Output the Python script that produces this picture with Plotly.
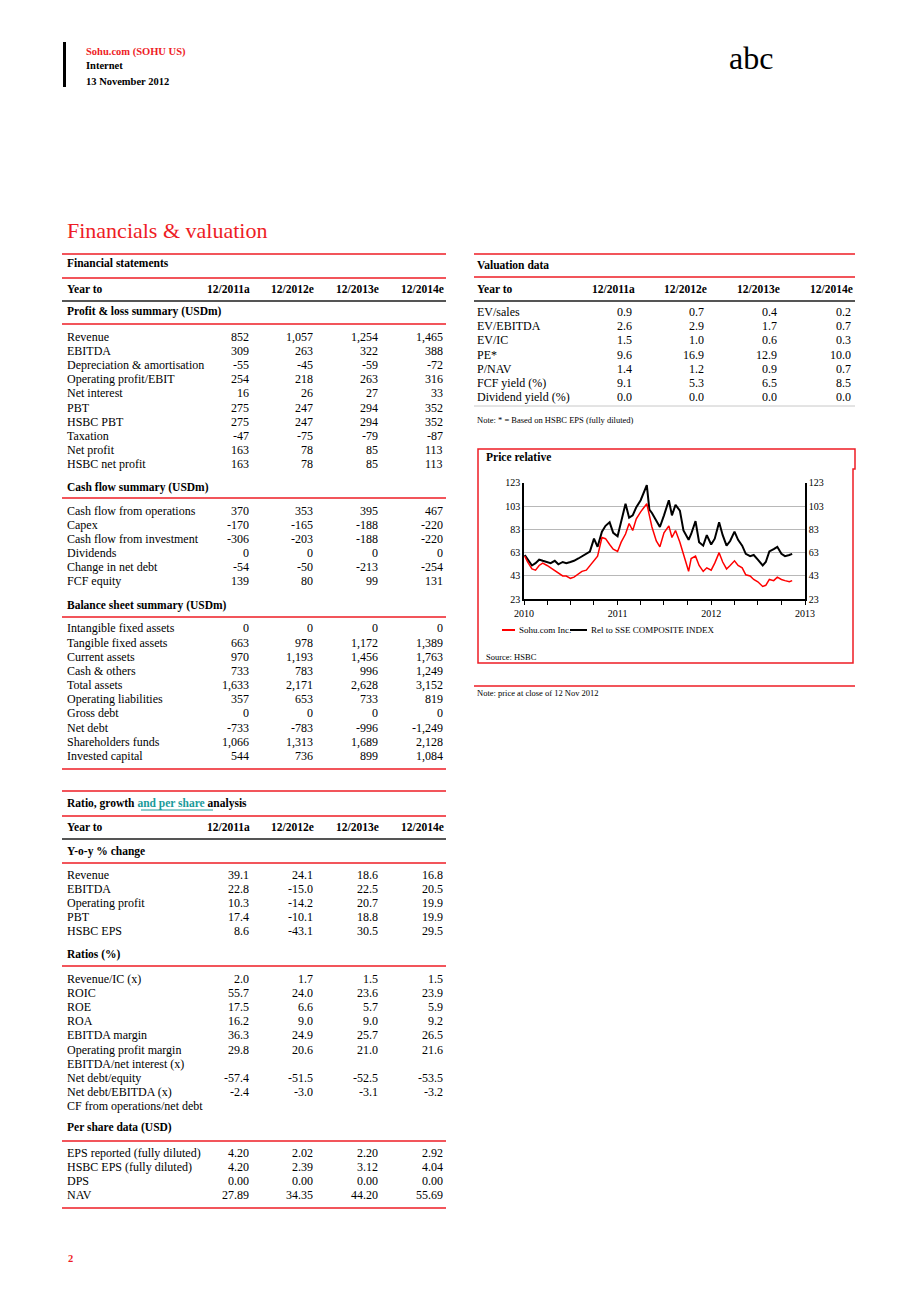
import plotly.graph_objects as go

# ---------------------------- PAGE CONFIG ----------------------------
W, H = 920, 1302
OFF = 8  # page offset of the plot div inside the browser window
FONT = "Liberation Serif, Times New Roman, serif"
RED = "#ee1c25"
TEAL = "#1a9a9a"

years = ["12/2011a", "12/2012e", "12/2013e", "12/2014e"]

# ---------------------------- TABLE DATA ----------------------------
pl_labels = ["Revenue", "EBITDA", "Depreciation & amortisation", "Operating profit/EBIT",
             "Net interest", "PBT", "HSBC PBT", "Taxation", "Net profit", "HSBC net profit"]
pl_values = [[852, 1057, 1254, 1465], [309, 263, 322, 388], [-55, -45, -59, -72],
             [254, 218, 263, 316], [16, 26, 27, 33], [275, 247, 294, 352],
             [275, 247, 294, 352], [-47, -75, -79, -87], [163, 78, 85, 113],
             [163, 78, 85, 113]]

cf_labels = ["Cash flow from operations", "Capex", "Cash flow from investment",
             "Dividends", "Change in net debt", "FCF equity"]
cf_values = [[370, 353, 395, 467], [-170, -165, -188, -220], [-306, -203, -188, -220],
             [0, 0, 0, 0], [-54, -50, -213, -254], [139, 80, 99, 131]]

bs_labels = ["Intangible fixed assets", "Tangible fixed assets", "Current assets",
             "Cash & others", "Total assets", "Operating liabilities", "Gross debt",
             "Net debt", "Shareholders funds", "Invested capital"]
bs_values = [[0, 0, 0, 0], [663, 978, 1172, 1389], [970, 1193, 1456, 1763],
             [733, 783, 996, 1249], [1633, 2171, 2628, 3152], [357, 653, 733, 819],
             [0, 0, 0, 0], [-733, -783, -996, -1249], [1066, 1313, 1689, 2128],
             [544, 736, 899, 1084]]

yoy_labels = ["Revenue", "EBITDA", "Operating profit", "PBT", "HSBC EPS"]
yoy_values = [[39.1, 24.1, 18.6, 16.8], [22.8, -15.0, 22.5, 20.5], [10.3, -14.2, 20.7, 19.9],
              [17.4, -10.1, 18.8, 19.9], [8.6, -43.1, 30.5, 29.5]]

ratio_labels = ["Revenue/IC (x)", "ROIC", "ROE", "ROA", "EBITDA margin",
                "Operating profit margin", "EBITDA/net interest (x)", "Net debt/equity",
                "Net debt/EBITDA (x)", "CF from operations/net debt"]
ratio_values = [[2.0, 1.7, 1.5, 1.5], [55.7, 24.0, 23.6, 23.9], [17.5, 6.6, 5.7, 5.9],
                [16.2, 9.0, 9.0, 9.2], [36.3, 24.9, 25.7, 26.5], [29.8, 20.6, 21.0, 21.6],
                None, [-57.4, -51.5, -52.5, -53.5], [-2.4, -3.0, -3.1, -3.2], None]

ps_labels = ["EPS reported (fully diluted)", "HSBC EPS (fully diluted)", "DPS", "NAV"]
ps_values = [[4.20, 2.02, 2.20, 2.92], [4.20, 2.39, 3.12, 4.04], [0.00, 0.00, 0.00, 0.00],
             [27.89, 34.35, 44.20, 55.69]]

val_labels = ["EV/sales", "EV/EBITDA", "EV/IC", "PE*", "P/NAV", "FCF yield (%)",
              "Dividend yield (%)"]
val_values = [[0.9, 0.7, 0.4, 0.2], [2.6, 2.9, 1.7, 0.7], [1.5, 1.0, 0.6, 0.3],
              [9.6, 16.9, 12.9, 10.0], [1.4, 1.2, 0.9, 0.7], [9.1, 5.3, 6.5, 8.5],
              [0.0, 0.0, 0.0, 0.0]]

# ---------------------------- PRICE DATA ----------------------------
price_dates = ["2010-01-04", "2010-01-15", "2010-02-01", "2010-02-15", "2010-03-01", "2010-03-15",
               "2010-04-01", "2010-04-15", "2010-05-01", "2010-05-15", "2010-06-01", "2010-06-15",
               "2010-07-01", "2010-07-15", "2010-08-01", "2010-08-15", "2010-09-01", "2010-09-15",
               "2010-10-01", "2010-10-15", "2010-11-01", "2010-11-15", "2010-12-01", "2010-12-15",
               "2011-01-01", "2011-01-15", "2011-02-01", "2011-02-15", "2011-03-01", "2011-03-15",
               "2011-04-01", "2011-04-25", "2011-05-05", "2011-05-15", "2011-06-01", "2011-06-15",
               "2011-07-01", "2011-07-20", "2011-08-01", "2011-08-15", "2011-09-01", "2011-09-15",
               "2011-10-05", "2011-10-15", "2011-11-01", "2011-11-15", "2011-12-01", "2011-12-15",
               "2012-01-01", "2012-01-15", "2012-02-01", "2012-02-15", "2012-03-01", "2012-03-15",
               "2012-04-01", "2012-04-15", "2012-05-01", "2012-05-15", "2012-06-01", "2012-06-15",
               "2012-07-01", "2012-07-20", "2012-08-01", "2012-08-15", "2012-09-01", "2012-09-15",
               "2012-10-01", "2012-10-15", "2012-11-01", "2012-11-12"]
rel_sse = [61, 57, 52, 54, 57, 56, 55, 54, 56, 53, 55, 54,
           55, 56, 58, 60, 62, 64, 75, 68, 81, 86, 89, 80,
           77, 90, 105, 93, 95, 102, 108, 121, 100, 97, 90, 85,
           95, 108, 95, 104, 99, 82, 74, 79, 90, 72, 69, 78,
           70, 75, 89, 78, 69, 73, 81, 74, 69, 62, 60, 61,
           57, 52, 55, 64, 66, 68, 62, 60, 61, 62]
sohu = [60, 55, 49, 48, 52, 54, 52, 50, 47, 45, 43, 43,
        41, 42, 45, 47, 48, 52, 57, 60, 76, 75, 70, 66,
        64, 72, 79, 88, 82, 92, 98, 105, 95, 85, 73, 68,
        80, 86, 76, 82, 72, 62, 47, 58, 60, 52, 47, 50,
        48, 54, 63, 55, 49, 52, 56, 52, 50, 44, 43, 40,
        38, 34, 35, 40, 39, 42, 40, 39, 38, 39]


def px(x):
    return (x - OFF) / W


def py(y):
    return 1 - (y - OFF) / H


def fmt(v, d):
    if v is None:
        return ""
    return f"{v:,.{d}f}"


annotations = []
shapes = []


def txt(x, y, s, anchor="left", size=12, color="black", bold=False):
    if bold:
        s = f"<b>{s}</b>"
    annotations.append(dict(x=px(x), y=py(y), xref="paper", yref="paper", text=s,
                            showarrow=False, xanchor=anchor, yanchor="middle",
                            font=dict(family=FONT, size=size, color=color)))


def hline(x0, x1, y, color=RED, width=1.5):
    shapes.append(dict(type="line", xref="paper", yref="paper", x0=px(x0), x1=px(x1),
                       y0=py(y), y1=py(y), line=dict(color=color, width=width)))


def rows(labels, values, y0, step, lx, cols, dec):
    for i, lab in enumerate(labels):
        y = y0 + i * step
        txt(lx, y, lab)
        if values[i] is None:
            continue
        for c, v in zip(cols, values[i]):
            txt(c, y, fmt(v, dec), anchor="right")


L_COLS = [251, 315, 380, 445]
L_HEAD = [252, 316, 381, 446]
R_COLS = [634, 706, 779, 853]
R_HEAD = [637, 709, 782, 855]

# ---------------------------- HEADER ----------------------------
shapes.append(dict(type="rect", xref="paper", yref="paper", x0=px(63), x1=px(66),
                   y0=py(42), y1=py(87), fillcolor="black", line=dict(width=0)))
txt(84, 52, "Sohu.com (SOHU US)", size=10.5, color=RED, bold=True)
txt(84, 66, "Internet", size=10.5, bold=True)
txt(84, 81, "13 November 2012", size=10.5, bold=True)
txt(727, 58, "abc", size=32)
txt(65, 230, "Financials & valuation", size=22, color=RED)

# ---------------------------- FINANCIAL STATEMENTS ----------------------------
hline(62, 446, 254)
txt(65, 263, "Financial statements", size=11.5, bold=True)
hline(62, 446, 278)
txt(65, 289, "Year to", size=11.5, bold=True)
for c, yr in zip(L_HEAD, years):
    txt(c, 289, yr, anchor="right", size=11.5, bold=True)
hline(62, 446, 301, color="#555555", width=2)
txt(65, 312, "Profit & loss summary (USDm)", size=11.5, bold=True)
hline(62, 446, 324)
rows(pl_labels, pl_values, 337, 14.1, 65, L_COLS, 0)
txt(65, 487, "Cash flow summary (USDm)", size=11.5, bold=True)
hline(62, 446, 498)
rows(cf_labels, cf_values, 511, 14.0, 65, L_COLS, 0)
txt(65, 605, "Balance sheet summary (USDm)", size=11.5, bold=True)
hline(62, 446, 617)
rows(bs_labels, bs_values, 628.5, 14.15, 65, L_COLS, 0)
hline(62, 446, 769)

# ---------------------------- RATIO TABLE ----------------------------
hline(62, 446, 791)
txt(65, 803, "Ratio, growth <span style='color:%s'>and per share</span> analysis" % TEAL,
    size=11.5, bold=True)
hline(141, 213, 810, color=TEAL, width=1)
hline(62, 446, 816)
txt(65, 827, "Year to", size=11.5, bold=True)
for c, yr in zip(L_HEAD, years):
    txt(c, 827, yr, anchor="right", size=11.5, bold=True)
hline(62, 446, 839, color="#555555", width=2)
txt(65, 851, "Y-o-y % change", size=11.5, bold=True)
hline(62, 446, 863)
rows(yoy_labels, yoy_values, 875, 14.0, 65, L_COLS, 1)
txt(65, 954, "Ratios (%)", size=11.5, bold=True)
hline(62, 446, 966)
rows(ratio_labels, ratio_values, 979, 14.1, 65, L_COLS, 1)
txt(65, 1127, "Per share data (USD)", size=11.5, bold=True)
hline(62, 446, 1141)
rows(ps_labels, ps_values, 1153, 14.0, 65, L_COLS, 2)
hline(62, 446, 1208)
txt(66, 1258, "2", size=10.5, color=RED, bold=True)

# ---------------------------- VALUATION ----------------------------
hline(474, 855, 254)
txt(475, 265, "Valuation data", size=11.5, bold=True)
hline(474, 855, 277)
txt(475, 289, "Year to", size=11.5, bold=True)
for c, yr in zip(R_HEAD, years):
    txt(c, 289, yr, anchor="right", size=11.5, bold=True)
hline(474, 855, 301, color="#555555", width=2)
rows(val_labels, val_values, 312, 14.2, 475, R_COLS, 1)
hline(474, 855, 406, color="#c8c8c8", width=1)
txt(475, 420, "Note: * = Based on HSBC EPS (fully diluted)", size=8.5)

# ---------------------------- PRICE RELATIVE BOX ----------------------------
box = [(478, 449), (855, 449), (855, 469), (853, 469), (853, 663), (478, 663)]
path = "M " + " L ".join(f"{px(a):.5f},{py(b):.5f}" for a, b in box) + " Z"
shapes.append(dict(type="path", xref="paper", yref="paper", path=path,
                   line=dict(color=RED, width=1.5)))
txt(484, 457, "Price relative", size=11.5, bold=True)
hline(502, 515, 630, color="#ff0000", width=2)
txt(517, 630, "Sohu.com Inc.", size=9)
hline(570, 587, 630, color="black", width=2)
txt(589, 630, "Rel to SSE COMPOSITE INDEX", size=9)
txt(484, 657, "Source: HSBC", size=8.5)
hline(474, 855, 686)
txt(475, 693, "Note: price at close of 12 Nov 2012", size=8.5)

# ---------------------------- FIGURE ----------------------------
fig = go.Figure()
fig.add_trace(go.Scatter(x=price_dates, y=rel_sse, mode="lines", xaxis="x", yaxis="y",
                         line=dict(color="black", width=2), name="Rel to SSE COMPOSITE INDEX"))
fig.add_trace(go.Scatter(x=price_dates, y=sohu, mode="lines", xaxis="x", yaxis="y2",
                         line=dict(color="#ff0000", width=1.5), name="Sohu.com Inc."))

ax_font = dict(family=FONT, size=10, color="black")
fig.update_layout(
    width=W, height=H, autosize=False,
    margin=dict(l=0, r=0, t=0, b=0, autoexpand=False),
    paper_bgcolor="white", plot_bgcolor="white",
    showlegend=False,
    xaxis=dict(domain=[px(524), px(805)], range=["2010-01-01", "2013-01-01"],
               tick0="2010-01-01", dtick="M12", tickformat="%Y",
               ticks="outside", ticklen=4, tickcolor="black",
               minor=dict(dtick="M3", ticks="outside", ticklen=4, tickcolor="black"),
               showline=True, linecolor="black", linewidth=1.5,
               showgrid=False, zeroline=False, tickfont=ax_font, fixedrange=True),
    yaxis=dict(domain=[py(599.3), py(482.7)], range=[23, 123], tick0=23, dtick=20,
               showline=True, linecolor="black", linewidth=1.5,
               showgrid=True, gridcolor="#b8b8b8", gridwidth=1,
               zeroline=False, tickfont=ax_font, fixedrange=True),
    yaxis2=dict(overlaying="y", side="right", range=[23, 123], tick0=23, dtick=20,
                showline=True, linecolor="black", linewidth=1.5, showgrid=False,
                zeroline=False, tickfont=ax_font, fixedrange=True),
    shapes=shapes,
    annotations=annotations,
)

fig.write_html("out.html")
